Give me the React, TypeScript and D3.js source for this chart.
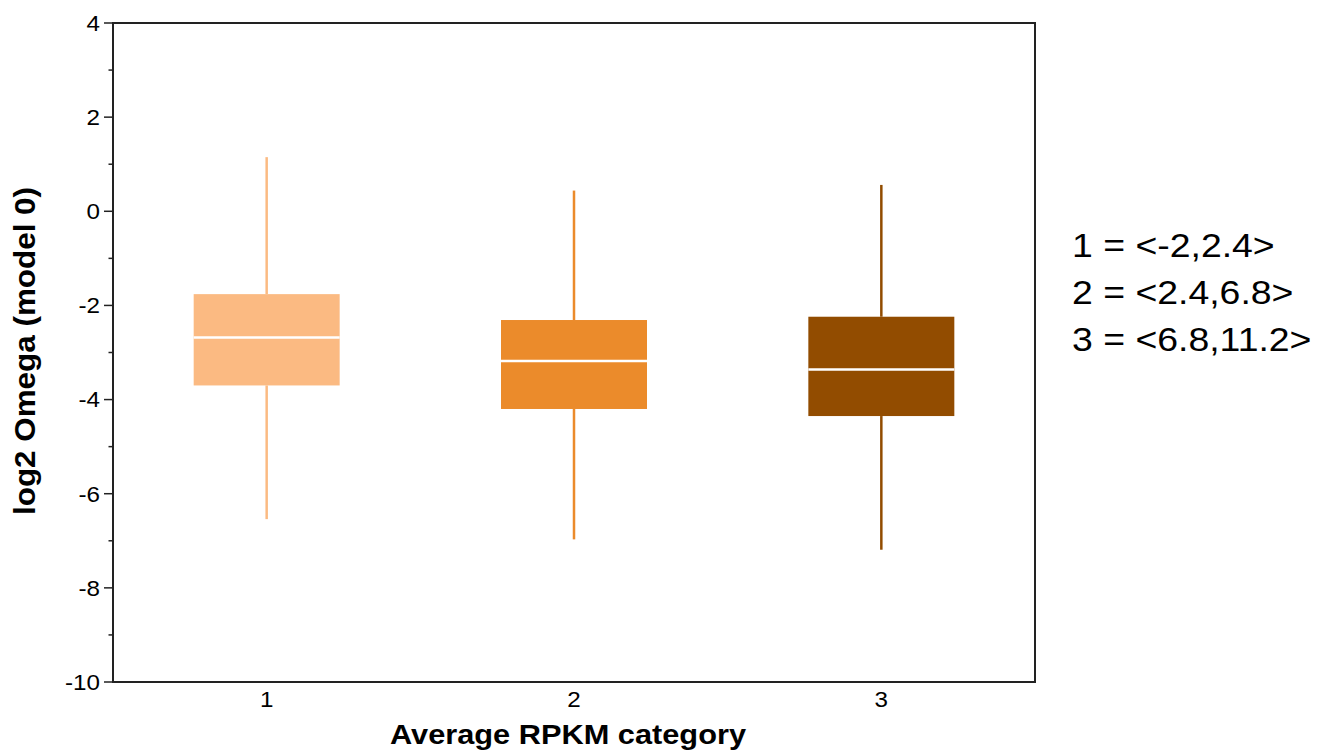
import React from "react";
import * as d3 from "d3";

const categories = ["1", "2", "3"];
const whiskerHigh = [1.15, 0.44, 0.56];
const q3Values = [-1.76, -2.31, -2.24];
const medians = [-2.68, -3.18, -3.36];
const q1Values = [-3.7, -4.2, -4.35];
const whiskerLow = [-6.54, -6.97, -7.19];
const colors = ["#FBBA82", "#EB8B2B", "#924C00"];
const majorTicks = [-10, -8, -6, -4, -2, 0, 2, 4];
const minorTicks = [-9, -7, -5, -3, -1, 1, 3];
const legendLines = ["1 = <-2,2.4>", "2 = <2.4,6.8>", "3 = <6.8,11.2>"];

const W = 1333;
const H = 753;
const left = 113;
const right = 1035;
const top = 23;
const bottom = 682;
const font = "Arial, 'Liberation Sans', Helvetica, sans-serif";

export default function App() {
  const y = d3.scaleLinear().domain([-10, 4]).range([bottom, top]);
  const x = d3.scaleLinear().domain([0.5, 3.5]).range([left, right]);
  const boxW = x(1.475) - x(1);

  return (
    <svg width={W} height={H} style={{ position: "absolute", left: 0, top: 0 }}>
      <rect x={0} y={0} width={W} height={H} fill="#fff" />
      {categories.map((c, i) => {
        const cx = x(i + 1);
        const col = colors[i];
        return (
          <g key={c}>
            <line x1={cx} x2={cx} y1={y(whiskerHigh[i])} y2={y(q3Values[i])} stroke={col} strokeWidth={2.5} />
            <line x1={cx} x2={cx} y1={y(q1Values[i])} y2={y(whiskerLow[i])} stroke={col} strokeWidth={2.5} />
            <rect
              x={cx - boxW / 2}
              y={y(q3Values[i])}
              width={boxW}
              height={y(q1Values[i]) - y(q3Values[i])}
              fill={col}
            />
            <line
              x1={cx - boxW / 2}
              x2={cx + boxW / 2}
              y1={y(medians[i])}
              y2={y(medians[i])}
              stroke="#fff"
              strokeWidth={2.5}
            />
            <g transform={`translate(${cx}, ${bottom + 25}) scale(1.1, 1)`}>
              <text textAnchor="middle" fontFamily={font} fontSize={22} fill="#000">
                {c}
              </text>
            </g>
          </g>
        );
      })}
      <rect x={left} y={top} width={right - left} height={bottom - top} fill="none" stroke="#222" strokeWidth={2} />
      {majorTicks.map((t) => (
        <g key={"M" + t}>
          <line x1={left - 9} x2={left} y1={y(t)} y2={y(t)} stroke="#222" strokeWidth={1.5} />
          <g transform={`translate(${left - 13}, ${y(t)}) scale(1.1, 1)`}>
            <text dy="0.36em" textAnchor="end" fontFamily={font} fontSize={22} fill="#000">
              {t}
            </text>
          </g>
        </g>
      ))}
      {minorTicks.map((t) => (
        <line key={"m" + t} x1={left - 4.5} x2={left} y1={y(t)} y2={y(t)} stroke="#222" strokeWidth={1.5} />
      ))}
      <text
        x={568}
        y={744}
        textAnchor="middle"
        fontFamily={font}
        fontWeight="bold"
        fontSize={28}
        fill="#000"
        textLength={356}
        lengthAdjust="spacingAndGlyphs"
      >
        Average RPKM category
      </text>
      <text
        transform={`translate(35, 351) rotate(-90)`}
        textAnchor="middle"
        fontFamily={font}
        fontWeight="bold"
        fontSize={30}
        fill="#000"
        textLength={328}
        lengthAdjust="spacingAndGlyphs"
      >
        log2 Omega (model 0)
      </text>
      {legendLines.map((l, i) => (
        <g key={l} transform={`translate(1072, ${257 + i * 47}) scale(1.1, 1)`}>
          <text fontFamily={font} fontSize={34} fill="#000">
            {l}
          </text>
        </g>
      ))}
    </svg>
  );
}
